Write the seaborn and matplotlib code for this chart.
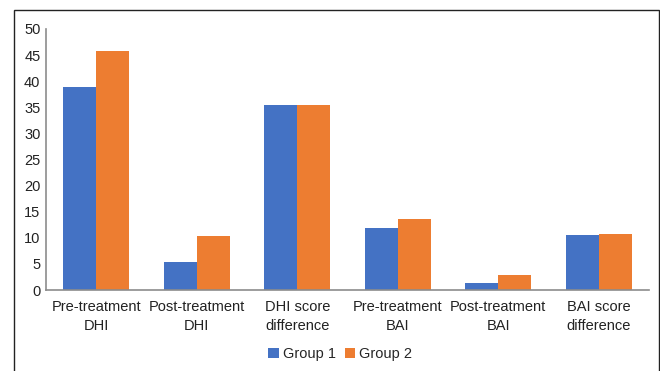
import seaborn as sns
import matplotlib.pyplot as plt
import pandas as pd
from matplotlib.patches import Rectangle

# values
categories = ["Pre-treatment\nDHI", "Post-treatment\nDHI", "DHI score\ndifference",
              "Pre-treatment\nBAI", "Post-treatment\nBAI", "BAI score\ndifference"]
group1 = [38.9, 5.4, 35.4, 11.9, 1.35, 10.5]
group2 = [45.8, 10.3, 35.4, 13.6, 2.9, 10.7]

df = pd.DataFrame({
    "category": categories * 2,
    "value": group1 + group2,
    "group": ["Group 1"] * len(categories) + ["Group 2"] * len(categories),
})

sns.set_theme(style="white")
plt.rcParams["font.family"] = ["Liberation Sans", "DejaVu Sans"]

fig = plt.figure(figsize=(6.6, 3.71), dpi=100)
ax = fig.add_axes([46 / 660, 1 - 290 / 371, 603 / 660, 261 / 371])

sns.barplot(data=df, x="category", y="value", hue="group", ax=ax,
            palette=["#4472C4", "#ED7D31"], width=0.66, saturation=1,
            linewidth=0, edgecolor="none")

ax.set_ylim(0, 50)
ax.set_yticks(range(0, 51, 5))
ax.set_xlim(-0.5, len(categories) - 0.5)
ax.set_xlabel("")
ax.set_ylabel("")
ax.tick_params(axis="both", length=0, labelsize=10.5, colors="#222222")
ax.tick_params(axis="x", pad=7)
ax.tick_params(axis="y", pad=4)
for lbl in ax.get_xticklabels():
    lbl.set_linespacing(1.45)
for s in ["top", "right"]:
    ax.spines[s].set_visible(False)
for s in ["left", "bottom"]:
    ax.spines[s].set_color("#8c8c8c")
    ax.spines[s].set_linewidth(1.2)

ax.legend(loc="center", bbox_to_anchor=(0.488, -0.245), ncol=2, frameon=False,
          fontsize=10.5, handlelength=0.7, handleheight=0.7, handletextpad=0.3,
          columnspacing=0.6)

# outer chart frame
fig.patches.append(Rectangle((14 / 660, -0.05), 645 / 660, 1 - 10 / 371 + 0.05,
                             transform=fig.transFigure, fill=False,
                             edgecolor="#222222", linewidth=1))

fig.savefig("out.png", dpi=100)
